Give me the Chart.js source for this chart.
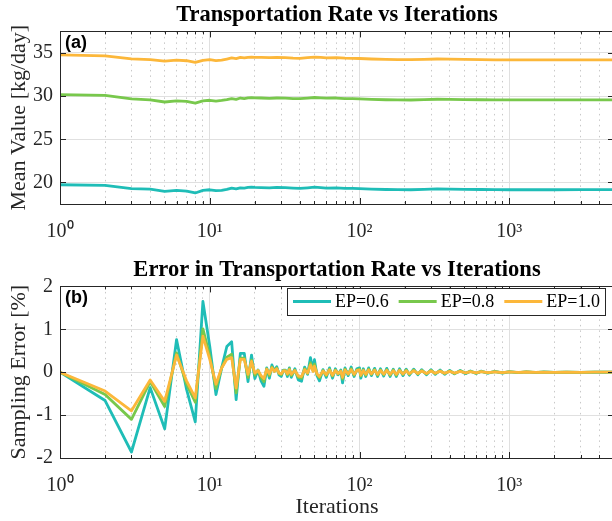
<!DOCTYPE html>
<html>
<head>
<meta charset="utf-8">
<script src="https://cdn.jsdelivr.net/npm/chart.js@4.4.1/dist/chart.umd.min.js"></script>
<style>
  html, body { margin: 0; padding: 0; background: #fff; overflow: hidden; }
  #wrap { position: relative; width: 612px; height: 521px; overflow: hidden; }
  #wrap canvas { position: absolute; left: 0; }
  #rateChart { top: 0; }
  #errorChart { top: 255px; }
</style>
</head>
<body>
<div id="wrap">
  <canvas id="rateChart" width="674" height="255"></canvas>
  <canvas id="errorChart" width="674" height="266"></canvas>
</div>
<script>
// series labels and colours
const seriesLabels = ['EP=0.6', 'EP=0.8', 'EP=1.0'];
const seriesColors = ['#1fbdb7', '#78c84c', '#fcb73a'];

// x axis (log) ticks
const xTickValues = [1, 2, 3, 4, 5, 6, 7, 8, 9, 10, 20, 30, 40, 50, 60, 70, 80, 90,
  100, 200, 300, 400, 500, 600, 700, 800, 900, 1000, 2000, 3000, 4000, 5000];
const decadeLabels = { 1: '10⁰', 10: '10¹', 100: '10²', 1000: '10³' };
const rateTicks = [20, 25, 30, 35];
const errorTicks = [-2, -1, 0, 1, 2];

// running mean of transportation rate
const iterRate = [1, 2, 3, 4, 5, 6, 7, 8, 9, 10, 11, 12, 13, 14, 15, 16, 17, 18, 19, 20,
  22, 25, 28, 32, 36, 40, 45, 50, 55, 60, 70, 80, 90, 100, 120, 150, 180, 220, 270, 330,
  400, 500, 650, 800, 1000, 1500, 2000, 3000, 4000, 5000];
const meanEP06 = [19.73, 19.66, 19.28, 19.22, 18.96, 19.08, 18.98, 18.78, 19.08, 19.15,
  19.04, 19.08, 19.2, 19.35, 19.25, 19.38, 19.35, 19.42, 19.45, 19.42,
  19.4, 19.38, 19.42, 19.4, 19.35, 19.3, 19.38, 19.45, 19.4, 19.35,
  19.38, 19.32, 19.3, 19.28, 19.22, 19.18, 19.16, 19.15, 19.2, 19.25,
  19.22, 19.2, 19.18, 19.16, 19.15, 19.15, 19.15, 19.16, 19.16, 19.16];
const meanEP08 = [30.18, 30.08, 29.68, 29.56, 29.32, 29.45, 29.4, 29.18, 29.45, 29.52,
  29.42, 29.5, 29.6, 29.72, 29.62, 29.78, 29.72, 29.8, 29.82, 29.8,
  29.78, 29.75, 29.78, 29.76, 29.72, 29.7, 29.78, 29.84, 29.8, 29.76,
  29.78, 29.72, 29.7, 29.68, 29.62, 29.58, 29.56, 29.55, 29.6, 29.64,
  29.62, 29.6, 29.58, 29.56, 29.56, 29.56, 29.56, 29.57, 29.57, 29.57];
const meanEP10 = [34.78, 34.66, 34.32, 34.24, 34.05, 34.16, 34.1, 33.9, 34.15, 34.22,
  34.12, 34.18, 34.3, 34.42, 34.35, 34.48, 34.44, 34.5, 34.52, 34.5,
  34.48, 34.46, 34.48, 34.45, 34.4, 34.38, 34.45, 34.52, 34.48, 34.44,
  34.45, 34.4, 34.38, 34.36, 34.3, 34.26, 34.24, 34.22, 34.26, 34.3,
  34.28, 34.25, 34.22, 34.2, 34.2, 34.2, 34.2, 34.2, 34.2, 34.2];

// sampling error [%] between successive means
const iterError = [1, 2, 3, 4, 5, 6, 7, 8, 9, 10, 11, 12, 13, 14, 15, 16, 17, 18, 19, 20,
  21, 22, 23, 24, 25, 26, 27, 28, 29, 30, 31, 32, 33, 34, 35,
  37, 39, 41, 43, 45, 47, 49, 50, 52, 54, 57, 60, 63, 66, 69, 72, 75, 77, 80, 84,
  88, 92, 96, 100, 102, 106, 110, 115, 120, 126, 132, 138, 145, 152, 160, 168, 176, 185, 195, 205,
  215, 230, 245, 260, 280, 300, 320, 345, 370, 400, 430, 470, 510, 550, 600, 650, 720, 800, 900, 1000,
  1150, 1300, 1500, 1700, 2000, 2400, 3000, 3700, 4500, 5000];
const errEP06 = [0, -0.66, -1.86, -0.36, -1.32, 0.76, -0.4, -1.16, 1.65, 0.6,
  -0.52, 0.1, 0.6, 0.71, -0.64, 0.44, 0.44, -0.22, 0.4, -0.15,
  0.05, -0.2, -0.33, 0.1, -0.14, 0.17, 0.03, 0.13, -0.06, -0.1, 0.05, 0.05, -0.1, 0.1, -0.12,
  0.08, -0.18, -0.21, 0.12, -0.05, 0.34, 0.05, 0.29, -0.08, -0.2, 0.06, -0.12, 0.1, -0.14, 0.08, -0.06, 0.05, -0.25, 0.1, -0.08,
  0.12, -0.1, 0.08, 0.1, -0.14, 0.08, -0.1, 0.1, -0.08, 0.09, -0.1, 0.08, -0.09, 0.09, -0.1, 0.07, -0.1, 0.08, -0.08, 0.07,
  -0.07, 0.07, -0.06, 0.06, -0.06, 0.06, -0.05, 0.05, -0.05, 0.04, -0.04, 0.04, -0.035, 0.03, -0.03, 0.025, -0.025, 0.02, -0.02, 0.015,
  -0.012, 0.01, -0.008, 0.006, -0.005, 0.004, -0.003, 0.002, -0.001, 0];
const errEP08 = [0, -0.52, -1.1, -0.22, -0.8, 0.45, -0.28, -0.7, 1.01, 0.38,
  -0.38, 0.1, 0.35, 0.42, -0.48, 0.33, 0.33, -0.12, 0.28, -0.07,
  0.04, -0.12, -0.22, 0.08, -0.08, 0.12, 0.02, 0.1, -0.03, -0.06, 0.04, 0.04, -0.06, 0.08, -0.08,
  0.05, -0.12, -0.14, 0.08, -0.03, 0.22, 0.03, 0.19, -0.05, -0.13, 0.04, -0.08, 0.07, -0.09, 0.05, -0.04, 0.03, -0.16, 0.07, -0.05,
  0.08, -0.07, 0.05, 0.07, -0.09, 0.05, -0.07, 0.07, -0.05, 0.06, -0.07, 0.05, -0.06, 0.06, -0.07, 0.05, -0.07, 0.05, -0.05, 0.05,
  -0.05, 0.05, -0.04, 0.04, -0.04, 0.04, -0.03, 0.03, -0.03, 0.03, -0.03, 0.03, -0.02, 0.02, -0.02, 0.016, -0.016, 0.013, -0.013, 0.01,
  -0.008, 0.006, -0.005, 0.004, -0.003, 0.003, -0.002, 0.001, 0, 0];
const errEP10 = [0, -0.44, -0.9, -0.18, -0.68, 0.4, -0.2, -0.6, 0.84, 0.3,
  -0.28, 0.1, 0.3, 0.34, -0.37, 0.3, 0.3, -0.05, 0.25, -0.02,
  0.04, -0.08, -0.15, 0.07, -0.04, 0.1, 0.02, 0.08, -0.02, -0.04, 0.03, 0.03, -0.04, 0.06, -0.05,
  0.04, -0.09, -0.1, 0.06, -0.02, 0.17, 0.02, 0.14, -0.04, -0.1, 0.03, -0.06, 0.05, -0.07, 0.04, -0.03, 0.02, -0.12, 0.05, -0.04,
  0.06, -0.05, 0.04, 0.05, -0.07, 0.04, -0.05, 0.05, -0.04, 0.045, -0.05, 0.04, -0.045, 0.045, -0.05, 0.035, -0.05, 0.04, -0.04, 0.035,
  -0.035, 0.035, -0.03, 0.03, -0.03, 0.03, -0.025, 0.025, -0.025, 0.02, -0.02, 0.02, -0.018, 0.015, -0.015, 0.012, -0.012, 0.01, -0.01, 0.008,
  -0.006, 0.005, -0.004, 0.003, -0.003, 0.002, -0.002, 0.001, 0, 0];

const axisColor = '#262626';
const serif = '"Liberation Serif", "Times New Roman", serif';

function isDecade(v) {
  return v !== undefined && decadeLabels[v] !== undefined;
}

function toPoints(xs, ys) {
  return xs.map((x, i) => ({ x: x, y: ys[i] }));
}

// box round the axes, inward tick marks and the panel letter
const axesBox = {
  id: 'axesBox',
  afterDatasetsDraw(chart, args, opts) {
    const { ctx, chartArea: a, scales: { x, y } } = chart;
    ctx.save();
    ctx.strokeStyle = axisColor;
    ctx.lineWidth = 1;
    ctx.beginPath();
    x.ticks.forEach(t => {
      const px = Math.round(x.getPixelForValue(t.value)) + 0.5;
      const len = isDecade(t.value) ? 6 : 3;
      ctx.moveTo(px, a.bottom); ctx.lineTo(px, a.bottom - len);
      ctx.moveTo(px, a.top); ctx.lineTo(px, a.top + len);
    });
    y.ticks.forEach(t => {
      const py = Math.round(y.getPixelForValue(t.value)) + 0.5;
      ctx.moveTo(a.left, py); ctx.lineTo(a.left + 6, py);
      ctx.moveTo(a.right, py); ctx.lineTo(a.right - 6, py);
    });
    ctx.stroke();
    ctx.strokeRect(Math.round(a.left) + 0.5, Math.round(a.top) + 0.5,
      Math.round(a.right - a.left), Math.round(a.bottom - a.top));
    ctx.fillStyle = '#000';
    ctx.font = 'bold 18px "Liberation Sans", Arial, sans-serif';
    ctx.textBaseline = 'top';
    ctx.textAlign = 'left';
    ctx.fillText(opts.label, a.left + 5, a.top + 3);
    ctx.restore();
  }
};

// legend in the upper right corner of the error panel
const cornerLegend = {
  id: 'cornerLegend',
  afterDraw(chart) {
    if (!chart.options.plugins.cornerLegend.show) return;
    const { ctx, chartArea: a } = chart;
    const sets = chart.data.datasets;
    ctx.save();
    ctx.font = '18px ' + serif;
    const lineLen = 38, gapLine = 4, gapItem = 10, padL = 6, padR = 5;
    let width = padL + padR;
    sets.forEach((ds, i) => {
      width += lineLen + gapLine + ctx.measureText(ds.label).width + (i < sets.length - 1 ? gapItem : 0);
    });
    width = Math.round(width);
    const h = 27;
    const right = Math.round(a.right - 9);
    const left = right - width;
    const top = Math.round(a.top + 2);
    ctx.fillStyle = '#fff';
    ctx.fillRect(left, top, width, h);
    ctx.strokeStyle = axisColor;
    ctx.lineWidth = 1;
    ctx.strokeRect(left + 0.5, top + 0.5, width, h);
    let cx = left + padL;
    const cy = top + h / 2;
    sets.forEach(ds => {
      ctx.strokeStyle = ds.borderColor;
      ctx.lineWidth = 3;
      ctx.beginPath();
      ctx.moveTo(cx, cy); ctx.lineTo(cx + lineLen, cy);
      ctx.stroke();
      cx += lineLen + gapLine;
      ctx.fillStyle = '#000';
      ctx.textBaseline = 'middle';
      ctx.fillText(ds.label, cx, cy + 1);
      cx += ctx.measureText(ds.label).width + gapItem;
    });
    ctx.restore();
  }
};

function makeDatasets(xs, series) {
  return series.map((ys, i) => ({
    label: seriesLabels[i],
    data: toPoints(xs, ys),
    borderColor: seriesColors[i],
    backgroundColor: seriesColors[i],
    borderWidth: 2.8,
    pointRadius: 0,
    tension: 0,
    fill: false,
    borderJoinStyle: 'round',
    order: series.length - i
  }));
}

function xScale(height, title) {
  return {
    type: 'logarithmic',
    min: 1,
    max: 5000,
    afterBuildTicks: s => { s.ticks = xTickValues.map(v => ({ value: v })); },
    afterFit: s => { s.height = height; },
    ticks: {
      autoSkip: false,
      maxRotation: 0,
      padding: 16,
      color: axisColor,
      font: { family: serif, size: 20 },
      callback: v => decadeLabels[v] || ''
    },
    grid: {
      drawTicks: false,
      lineWidth: 1,
      color: c => (c.tick && !isDecade(c.tick.value)) ? '#c8c8c8' : '#e0e0e0'
    },
    border: {
      display: false,
      dash: c => (c.tick && !isDecade(c.tick.value)) ? [1.5, 4] : []
    },
    title: {
      display: !!title,
      text: title || '',
      color: axisColor,
      font: { family: serif, size: 22 },
      padding: { top: 0, bottom: 1 }
    }
  };
}

function yScale(min, max, tickVals, title) {
  return {
    min: min,
    max: max,
    afterBuildTicks: s => { s.ticks = tickVals.map(v => ({ value: v })); },
    afterFit: s => { s.width = 60; },
    ticks: {
      padding: 7,
      color: axisColor,
      font: { family: serif, size: 20 }
    },
    grid: { drawTicks: false, lineWidth: 1, color: '#e0e0e0' },
    border: { display: false },
    title: {
      display: true,
      text: title,
      color: axisColor,
      font: { family: serif, size: 22 },
      padding: { top: 6, bottom: 0 }
    }
  };
}

// empty right-hand axis that only reserves space, so the title stays centred on the plot
function spacerScale(min, max) {
  return {
    position: 'right',
    min: min,
    max: max,
    afterFit: s => { s.width = 60; },
    ticks: { display: false },
    grid: { display: false },
    border: { display: false }
  };
}

function baseOptions(titleText, panel, legend, xs, ys, yr) {
  return {
    responsive: false,
    animation: false,
    layout: { padding: 0 },
    plugins: {
      legend: { display: false },
      tooltip: { enabled: false },
      title: {
        display: true,
        text: titleText,
        color: '#000',
        font: { family: serif, size: 22.5, weight: 'bold' },
        padding: { top: 2, bottom: 2.4 }
      },
      axesBox: { label: panel },
      cornerLegend: { show: legend }
    },
    scales: { x: xs, y: ys, yRight: yr }
  };
}

// upper panel: mean value
new Chart(document.getElementById('rateChart'), {
  type: 'line',
  data: { datasets: makeDatasets(iterRate, [meanEP06, meanEP08, meanEP10]) },
  options: baseOptions('Transportation Rate vs Iterations', '(a)', false,
    xScale(51, null), yScale(17.5, 37.5, rateTicks, 'Mean Value [kg/day]'), spacerScale(17.5, 37.5)),
  plugins: [axesBox, cornerLegend]
});

// lower panel: sampling error
new Chart(document.getElementById('errorChart'), {
  type: 'line',
  data: { datasets: makeDatasets(iterError, [errEP06, errEP08, errEP10]) },
  options: baseOptions('Error in Transportation Rate vs Iterations', '(b)', true,
    xScale(63, 'Iterations'), yScale(-2, 2, errorTicks, 'Sampling Error [%]'), spacerScale(-2, 2)),
  plugins: [axesBox, cornerLegend]
});
</script>
</body>
</html>
